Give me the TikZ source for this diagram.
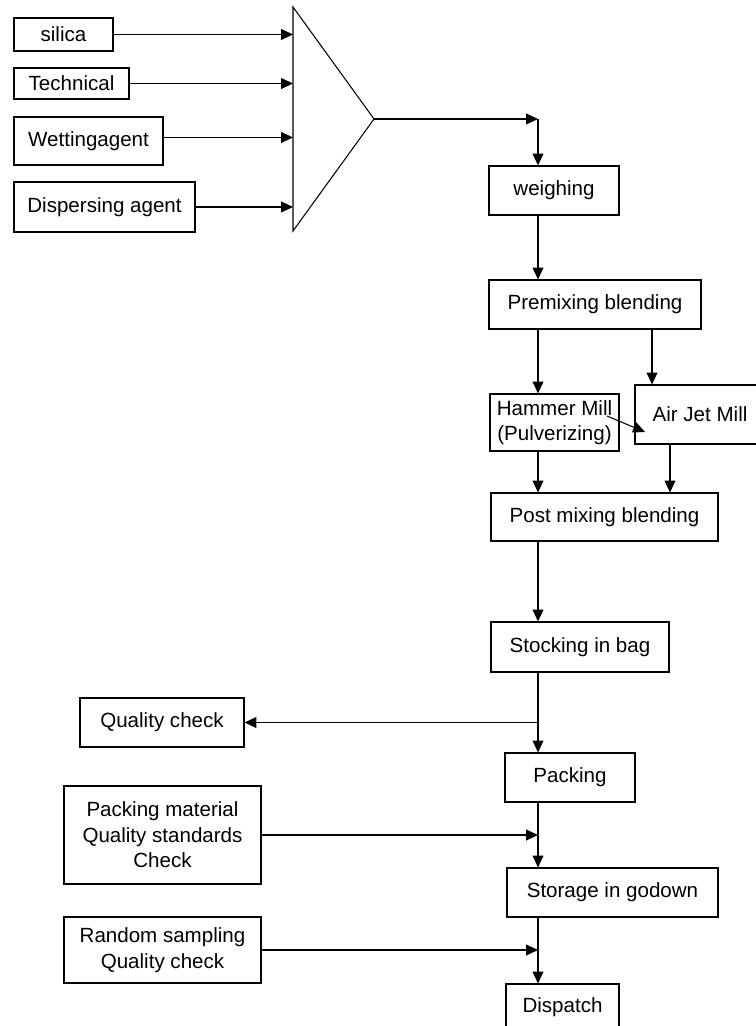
\documentclass[tikz,border=0pt]{standalone}
\usepackage{fontspec}
\setmainfont{Liberation Sans}
\usetikzlibrary{arrows.meta,calc}

\begin{document}
\begin{tikzpicture}[x=0.02cm, y=-0.02cm, line width=0.6pt,
    font=\fontsize{11.7}{14.5}\selectfont,
    box/.style 2 args={draw, inner sep=0pt, align=center,
      minimum width=#1*0.02cm, minimum height=#2*0.02cm},
    flow/.style={-{Triangle[length=6.8pt,width=6.2pt]}}]
    \clip (0,0) rectangle (756,1026);
    \node[box={99}{33}] (silica) at (63.5,34.5) {silica};
    \node[box={115}{31}] (tech) at (71.5,83.5) {Technical};
    \node[box={149}{48}] (wet) at (88.5,141) {Wettingagent};
    \node[box={181}{50}] (dispag) at (104.5,207) {Dispersing agent};
    \coordinate (mixtop) at (293,7);
    \coordinate (mixbot) at (293,231);
    \coordinate (mixout) at (374,119);
    \coordinate (turn) at (538,119);
    \coordinate (colb) at (652,0);
    \coordinate (colc) at (670,0);
    \draw (mixtop) -- (mixbot) -- (mixout) -- cycle;
    \draw[flow] (silica.east) -- (silica.east -| mixtop);
    \draw[flow] (tech.east) -- (tech.east -| mixtop);
    \draw[flow] ([yshift=2pt]wet.east) -- ([yshift=2pt]wet.east -| mixtop);
    \draw[flow] (dispag.east) -- (dispag.east -| mixtop);
    % process line
    \node[box={130}{49}] (weigh) at (554,190.5) {weighing};
    \node[box={212}{49}] (premix) at (595,304.5) {Premixing blending};
    \node[box={129}{57}] (hmill) at (554.5,422.5) {Hammer Mill\\(Pulverizing)};
    \node[box={130}{59}] (ajmill) at (700,414.5) {Air Jet Mill};
    \node[box={227}{48}] (post) at (604.5,517) {Post mixing blending};
    \node[box={178}{50}] (stock) at (580,647) {Stocking in bag};
    \node[box={164}{49}] (qc) at (162,722.5) {Quality check};
    \node[box={130}{49}] (pack) at (570,777.5) {Packing};
    \node[box={197}{98}] (pmat) at (162.5,835) {Packing material\\Quality standards\\Check};
    \node[box={211}{49}] (store) at (612.5,892.5) {Storage in godown};
    \node[box={197}{66}] (rsamp) at (162.5,950) {Random sampling\\Quality check};
    \node[box={113}{46}] (dispatch) at (562.5,1007) {Dispatch};
    \draw[flow] (mixout) -- (turn);
    \draw[flow] (turn) -- (turn |- weigh.north);
    \draw[flow] (weigh.south -| turn) -- (premix.north -| turn);
    \draw[flow] (premix.south -| turn) -- (hmill.north -| turn);
    \draw[flow] (premix.south -| colb) -- (ajmill.north -| colb);
    \draw[flow] ($(hmill.center)+(52.5,-6.5)$) -- ($(ajmill.center)+(-55,17.5)$);
    \draw[flow] (hmill.south -| turn) -- (post.north -| turn);
    \draw[flow] (ajmill.south -| colc) -- (post.north -| colc);
    \draw[flow] (post.south -| turn) -- (stock.north -| turn);
    \draw[flow] (stock.south -| turn) -- (pack.north -| turn);
    \draw[flow] (qc.east -| turn) -- (qc.east);
    \draw[flow] (pack.south -| turn) -- (store.north -| turn);
    \draw[flow] (pmat.east) -- (pmat.east -| turn);
    \draw[flow] (store.south -| turn) -- (dispatch.north -| turn);
    \draw[flow] (rsamp.east) -- (rsamp.east -| turn);
\end{tikzpicture}
\end{document}
